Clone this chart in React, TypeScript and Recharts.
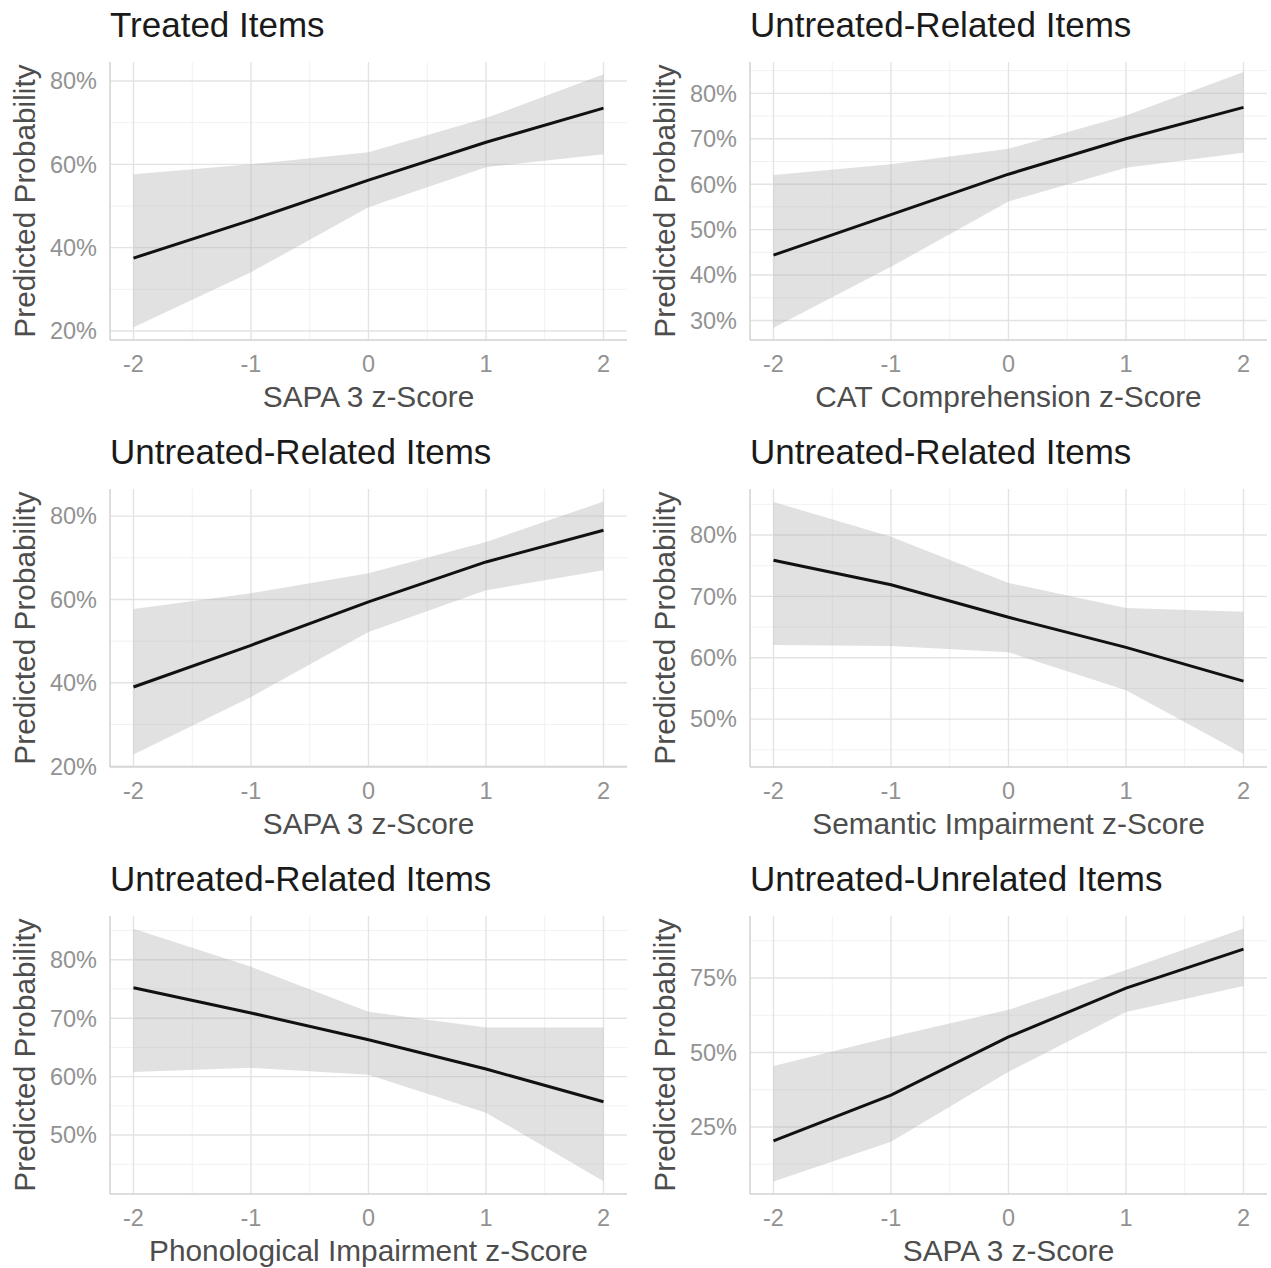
import React from "react"
import {
  ComposedChart,
  Area,
  Line,
  XAxis,
  YAxis,
  CartesianGrid,
} from "recharts"

// ─── Data (predicted probability, %) ─────────────────────────────────────────

const zScores = [-2, -1, 0, 1, 2]
const zMinor = [-1.5, -0.5, 0.5, 1.5]

const treatedSapaFit = [37.5, 46.6, 56.2, 65.3, 73.5]
const treatedSapaLow = [20.9, 34.1, 49.7, 59.3, 62.4]
const treatedSapaHigh = [57.6, 60.0, 62.9, 71.1, 81.6]

const relatedCatFit = [44.4, 53.3, 62.2, 70.0, 76.9]
const relatedCatLow = [28.4, 41.8, 56.2, 63.6, 66.9]
const relatedCatHigh = [62.0, 64.4, 67.8, 75.1, 84.7]

const relatedSapaFit = [39.0, 49.0, 59.4, 69.0, 76.6]
const relatedSapaLow = [22.8, 36.6, 52.2, 62.2, 67.0]
const relatedSapaHigh = [57.7, 61.5, 66.3, 73.8, 83.5]

const relatedSemanticFit = [75.9, 71.9, 66.6, 61.7, 56.2]
const relatedSemanticLow = [62.1, 61.9, 60.9, 54.7, 44.3]
const relatedSemanticHigh = [85.4, 79.7, 72.2, 68.1, 67.5]

const relatedPhonoFit = [75.2, 70.9, 66.3, 61.3, 55.7]
const relatedPhonoLow = [60.8, 61.5, 60.3, 53.8, 42.1]
const relatedPhonoHigh = [85.3, 78.8, 71.1, 68.4, 68.4]

const unrelatedSapaFit = [20.3, 35.7, 55.2, 71.6, 84.7]
const unrelatedSapaLow = [6.7, 20.0, 43.5, 63.6, 72.3]
const unrelatedSapaHigh = [45.5, 55.2, 64.3, 77.7, 91.6]

const ticks20 = [20, 40, 60, 80]
const minor20 = [30, 50, 70]
const ticks10a = [30, 40, 50, 60, 70, 80]
const minor10a = [35, 45, 55, 65, 75, 85]
const ticks10b = [50, 60, 70, 80]
const minor10b = [45, 55, 65, 75, 85]
const ticks25 = [25, 50, 75]
const minor25 = [12.5, 37.5, 62.5, 87.5]

// ─── Styling ─────────────────────────────────────────────────────────────────

const FONT = "'Liberation Sans', Arial, Helvetica, sans-serif"
const PANEL_W = 635
const PANEL_H = 427
const AXIS_TITLE_SIZE = 29.8

interface PanelSpec {
  title: string
  xLabel: string
  fit: number[]
  low: number[]
  high: number[]
  yDomain: [number, number]
  yTicks: number[]
  yMinor: number[]
}

const panels: PanelSpec[] = [
  { title: "Treated Items", xLabel: "SAPA 3 z-Score", fit: treatedSapaFit, low: treatedSapaLow, high: treatedSapaHigh, yDomain: [17.84, 84.56], yTicks: ticks20, yMinor: minor20 },
  { title: "Untreated-Related Items", xLabel: "CAT Comprehension z-Score", fit: relatedCatFit, low: relatedCatLow, high: relatedCatHigh, yDomain: [25.7, 86.9], yTicks: ticks10a, yMinor: minor10a },
  { title: "Untreated-Related Items", xLabel: "SAPA 3 z-Score", fit: relatedSapaFit, low: relatedSapaLow, high: relatedSapaHigh, yDomain: [19.8, 86.5], yTicks: ticks20, yMinor: minor20 },
  { title: "Untreated-Related Items", xLabel: "Semantic Impairment z-Score", fit: relatedSemanticFit, low: relatedSemanticLow, high: relatedSemanticHigh, yDomain: [42.2, 87.5], yTicks: ticks10b, yMinor: minor10b },
  { title: "Untreated-Related Items", xLabel: "Phonological Impairment z-Score", fit: relatedPhonoFit, low: relatedPhonoLow, high: relatedPhonoHigh, yDomain: [39.9, 87.5], yTicks: ticks10b, yMinor: minor10b },
  { title: "Untreated-Unrelated Items", xLabel: "SAPA 3 z-Score", fit: unrelatedSapaFit, low: unrelatedSapaLow, high: unrelatedSapaHigh, yDomain: [2.5, 95.8], yTicks: ticks25, yMinor: minor25 },
]

// rotated y title, placed off the left edge of the axis box
function YTitle(props: any) {
  const vb = props.viewBox || { x: 0, y: 0, height: 0 }
  const x = vb.x + 35
  const y = vb.y + vb.height / 2
  return (
    <text
      x={x}
      y={y}
      transform={`rotate(-90 ${x} ${y})`}
      textAnchor="middle"
      fontFamily={FONT}
      fontSize={AXIS_TITLE_SIZE}
      fill="#4d4d4d"
    >
      Predicted Probability
    </text>
  )
}

function XTitle(props: any) {
  const vb = props.viewBox || { x: 0, y: 0, width: 0, height: 0 }
  return (
    <text
      x={vb.x + vb.width / 2}
      y={vb.y + 67}
      textAnchor="middle"
      fontFamily={FONT}
      fontSize={AXIS_TITLE_SIZE}
      fill="#4d4d4d"
    >
      {props.text}
    </text>
  )
}

function EffectPanel({ panel, left, top }: { panel: PanelSpec; left: number; top: number }) {
  const data = zScores.map((z, i) => ({
    z,
    fit: panel.fit[i],
    band: [panel.low[i], panel.high[i]],
  }))

  return (
    <div style={{ position: "absolute", left, top, width: PANEL_W, height: PANEL_H }}>
      <div
        style={{
          position: "absolute",
          left: 110,
          top: 7,
          fontFamily: FONT,
          fontSize: 35,
          lineHeight: "35px",
          color: "#1a1a1a",
          whiteSpace: "nowrap",
        }}
      >
        {panel.title}
      </div>
      <ComposedChart
        width={PANEL_W}
        height={PANEL_H}
        data={data}
        margin={{ top: 62, right: 8, bottom: 47, left: 0 }}
      >
        <CartesianGrid
          horizontalValues={panel.yMinor}
          verticalValues={zMinor}
          stroke="#f1f1f1"
          strokeWidth={1}
        />
        <CartesianGrid
          horizontalValues={panel.yTicks}
          verticalValues={zScores}
          stroke="#e3e3e3"
          strokeWidth={1.4}
        />
        <XAxis
          type="number"
          dataKey="z"
          domain={[-2.2, 2.2]}
          ticks={zScores}
          allowDataOverflow
          height={40}
          tickSize={0}
          tickMargin={15}
          tick={{ fontSize: 23.5, fill: "#929292", fontFamily: FONT }}
          axisLine={{ stroke: "#d2d2d2", strokeWidth: 1.5 }}
          tickLine={false}
          label={<XTitle text={panel.xLabel} />}
        />
        <YAxis
          type="number"
          domain={panel.yDomain}
          ticks={panel.yTicks}
          allowDataOverflow
          width={110}
          tickSize={0}
          tickMargin={13}
          tickFormatter={(v: number) => `${v}%`}
          tick={{ fontSize: 23.5, fill: "#929292", fontFamily: FONT }}
          axisLine={{ stroke: "#d2d2d2", strokeWidth: 1.5 }}
          tickLine={false}
          label={<YTitle />}
        />
        <Area
          type="linear"
          dataKey="band"
          stroke="none"
          fill="#b4b4b4"
          fillOpacity={0.4}
          isAnimationActive={false}
        />
        <Line
          type="linear"
          dataKey="fit"
          stroke="#111111"
          strokeWidth={3}
          dot={false}
          activeDot={false}
          isAnimationActive={false}
        />
      </ComposedChart>
    </div>
  )
}

export default function App() {
  return (
    <div
      style={{
        position: "absolute",
        left: 0,
        top: 0,
        width: 1271,
        height: 1268,
        background: "#ffffff",
        overflow: "hidden",
      }}
    >
      {panels.map((p, i) => (
        <EffectPanel
          key={i}
          panel={p}
          left={(i % 2) * 640}
          top={Math.floor(i / 2) * PANEL_H}
        />
      ))}
    </div>
  )
}
